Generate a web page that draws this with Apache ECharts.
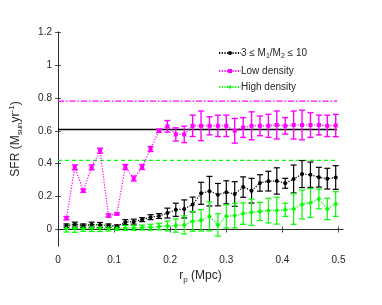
<!DOCTYPE html>
<html>
<head>
<meta charset="utf-8">
<script src="https://cdn.jsdelivr.net/npm/echarts@6/dist/echarts.min.js"></script>
<style>html,body{margin:0;padding:0;background:#fff}#c{width:382px;height:305px}</style>
</head>
<body>
<div id="c"></div>
<script>
// ---- data ----
const rp = [0.015,0.030,0.045,0.060,0.075,0.090,0.105,0.120,0.135,0.150,0.165,0.180,0.195,0.210,0.225,0.240,0.255,0.270,0.285,0.300,0.315,0.330,0.345,0.360,0.375,0.390,0.405,0.420,0.435,0.450,0.465,0.480,0.495];
const ratioSFR = [0.024,0.030,0.024,0.030,0.028,0.024,0.020,0.045,0.048,0.060,0.075,0.082,0.100,0.120,0.125,0.152,0.220,0.233,0.212,0.226,0.216,0.258,0.236,0.283,0.294,0.295,0.281,0.307,0.337,0.333,0.318,0.309,0.316];
const ratioErr = [0.010,0.015,0.010,0.015,0.015,0.010,0.008,0.015,0.015,0.012,0.015,0.015,0.030,0.040,0.055,0.045,0.067,0.090,0.068,0.070,0.075,0.062,0.075,0.050,0.060,0.080,0.030,0.085,0.082,0.077,0.060,0.063,0.072];
const lowSFR = [0.069,0.378,0.236,0.378,0.479,0.085,0.095,0.380,0.310,0.380,0.489,0.600,0.627,0.578,0.578,0.630,0.630,0.630,0.630,0.630,0.600,0.620,0.630,0.630,0.630,0.635,0.630,0.635,0.635,0.635,0.635,0.630,0.632];
const lowErr = [0.010,0.015,0.010,0.015,0.015,0.010,0.006,0.015,0.015,0.015,0.015,0.010,0.035,0.040,0.050,0.065,0.090,0.055,0.065,0.065,0.075,0.060,0.085,0.060,0.070,0.085,0.050,0.085,0.090,0.075,0.060,0.065,0.068];
const highSFR = [0.005,0.008,0.005,0.008,0.008,0.006,0.006,0.010,0.010,0.012,0.014,0.018,0.022,0.024,0.028,0.050,0.056,0.080,0.028,0.080,0.085,0.097,0.105,0.110,0.115,0.115,0.120,0.125,0.152,0.162,0.186,0.125,0.155];
const highErr = [0.020,0.025,0.015,0.020,0.020,0.015,0.010,0.015,0.015,0.015,0.018,0.020,0.030,0.040,0.055,0.060,0.065,0.088,0.068,0.070,0.075,0.065,0.080,0.055,0.075,0.082,0.040,0.093,0.088,0.088,0.060,0.065,0.075];
const refX = [0, 0.4975];
const refRatio = 0.607;
const refLow = 0.78;
const refHigh = 0.42;
const xTicks = [0, 0.1, 0.2, 0.3, 0.4, 0.5];
const yTicks = [0, 0.2, 0.4, 0.6, 0.8, 1, 1.2];
const names = ['ratio', 'Low density', 'High density'];

const FONT = 'Liberation Sans, Arial, Helvetica, sans-serif';
const TXT = '#262626';
const AX = '#262626';

function errSeries(means, errs, color, lw, z) {
  return {
    type: 'custom', name: 'err_' + color, z: z, silent: true,
    xAxisIndex: 0, yAxisIndex: 0,
    data: rp.map((x, i) => [x, means[i] - errs[i], means[i] + errs[i]]),
    encode: { x: 0, y: [1, 2] },
    renderItem: function (params, api) {
      const x = api.value(0);
      const a = api.coord([x, api.value(1)]);
      const b = api.coord([x, api.value(2)]);
      const w = 3;
      const st = { stroke: color, lineWidth: lw };
      return { type: 'group', children: [
        { type: 'line', shape: { x1: a[0], y1: a[1], x2: b[0], y2: b[1] }, style: st },
        { type: 'line', shape: { x1: a[0] - w, y1: a[1], x2: a[0] + w, y2: a[1] }, style: st },
        { type: 'line', shape: { x1: b[0] - w, y1: b[1], x2: b[0] + w, y2: b[1] }, style: st }
      ]};
    }
  };
}
function lineSeries(name, vals, color, symbol, size, z) {
  return {
    type: 'line', name: name, z: z, xAxisIndex: 0, yAxisIndex: 0,
    data: rp.map((x, i) => [x, vals[i]]),
    symbol: symbol, symbolSize: size, showSymbol: true,
    itemStyle: { color: color },
    lineStyle: { color: color, width: 1.2, type: [1.2, 1.5] },
    animation: false
  };
}
function refSeries(v, color, type, width) {
  return {
    type: 'line', name: 'ref_' + color, silent: true, z: 1,
    data: refX.map(x => [x, v]), symbol: 'none',
    lineStyle: { color: color, width: width, type: type }, animation: false
  };
}

const chart = echarts.init(document.getElementById('c'), null, { renderer: 'canvas' });
const baseAxisLine = { show: true, lineStyle: { color: AX, width: 0.8 } };
chart.setOption({
  animation: false,
  backgroundColor: '#fff',
  grid: { left: 56, top: 32, right: 39, bottom: 59, containLabel: false },
  legend: {
    data: names, orient: 'vertical', left: 213, top: 43,
    itemWidth: 22, itemHeight: 5, itemGap: 6,
    textStyle: { fontFamily: FONT, fontSize: 10, color: TXT, padding: [0, 0, 0, -5],
      rich: {
        n: { fontFamily: FONT, fontSize: 10, color: TXT, lineHeight: 14 },
        s: { fontFamily: FONT, fontSize: 7, color: TXT, verticalAlign: 'bottom', lineHeight: 7 }
      } },
    formatter: function (n) {
      if (n === 'ratio') return '{n|3 \u2264 M}{s|1}{n|/M}{s|2}{n| \u2264 10}';
      return '{n|' + n + '}';
    }
  },
  xAxis: [{
    type: 'value', min: 0, max: 0.508, position: 'bottom',
    name: '{n|r}{s|p}{n| (Mpc)}', nameLocation: 'middle', nameGap: 20,
    nameTextStyle: { fontFamily: FONT, fontSize: 12, color: TXT,
      rich: { n: { fontFamily: FONT, fontSize: 12, color: TXT, lineHeight: 16 },
              s: { fontFamily: FONT, fontSize: 8, color: TXT, verticalAlign: 'bottom', lineHeight: 8 } } },
    axisLine: baseAxisLine,
    axisTick: { show: true, inside: true, length: 3, lineStyle: { color: AX, width: 0.8 }, customValues: xTicks },
    axisLabel: { show: true, customValues: xTicks, margin: 9, fontFamily: FONT, fontSize: 10, color: TXT },
    splitLine: { show: false }
  }, {
    type: 'value', min: 0, max: 0.508, position: 'top',
    axisLine: baseAxisLine,
    axisTick: { show: true, inside: true, length: 3, lineStyle: { color: AX, width: 0.8 }, customValues: xTicks },
    axisLabel: { show: false }, splitLine: { show: false }
  }],
  yAxis: [{
    type: 'value', min: -0.1, max: 1.2, position: 'left',
    name: '{n|SFR (M}{s|sun}{n|yr}{p|-1}{n|)}', nameLocation: 'middle', nameGap: 34, nameRotate: 90,
    nameTextStyle: { fontFamily: FONT, fontSize: 12, color: TXT,
      rich: { n: { fontFamily: FONT, fontSize: 12, color: TXT, lineHeight: 16 },
              s: { fontFamily: FONT, fontSize: 8, color: TXT, verticalAlign: 'bottom', lineHeight: 8 },
              p: { fontFamily: FONT, fontSize: 8, color: TXT, verticalAlign: 'top', lineHeight: 8 } } },
    axisLine: baseAxisLine,
    axisTick: { show: true, inside: true, length: 3, lineStyle: { color: AX, width: 0.8 }, customValues: yTicks },
    axisLabel: { show: true, customValues: yTicks, margin: 6, fontFamily: FONT, fontSize: 10, color: TXT },
    splitLine: { show: false }
  }, {
    type: 'value', min: -0.1, max: 1.2, position: 'right',
    axisLine: baseAxisLine,
    axisTick: { show: true, inside: true, length: 3, lineStyle: { color: AX, width: 0.8 }, customValues: yTicks },
    axisLabel: { show: false }, splitLine: { show: false }
  }],
  series: [
    refSeries(refRatio, '#000000', 'solid', 1.5),
    refSeries(refLow, '#ff00ff', [6, 2, 1.5, 2], 1.2),
    refSeries(refHigh, '#00ff00', [4, 3], 1.2),
    errSeries(ratioSFR, ratioErr, '#000000', 1.2, 3),
    lineSeries('ratio', ratioSFR, '#000000', 'circle', 4, 4),
    errSeries(lowSFR, lowErr, '#ff00ff', 1.4, 3),
    lineSeries('Low density', lowSFR, '#ff00ff', 'rect', 4, 4),
    errSeries(highSFR, highErr, '#00ff00', 1.2, 3),
    lineSeries('High density', highSFR, '#00ff00', 'diamond', 5, 4)
  ]
});
</script>
</body>
</html>
